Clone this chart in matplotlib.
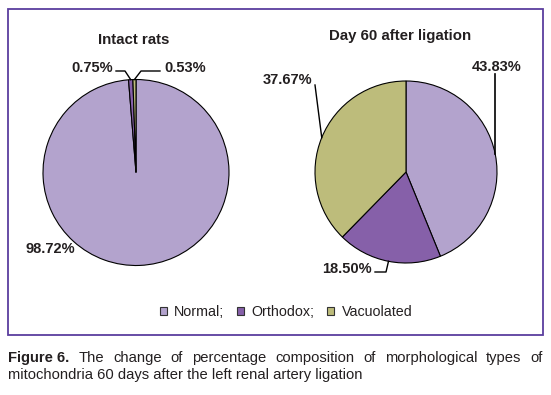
import matplotlib
matplotlib.use("Agg")
import matplotlib.pyplot as plt
from matplotlib.patches import Rectangle, Patch
import numpy as np

plt.rcParams['font.family'] = ['Liberation Sans', 'DejaVu Sans']

# ---- data ----
categories = ["Normal", "Orthodox", "Vacuolated"]
intact_values = [98.72, 0.75, 0.53]
day60_values = [43.83, 18.50, 37.67]
titles = ["Intact rats", "Day 60 after ligation"]
colors = ["#B3A3CD", "#8660A9", "#BDBC7B"]
caption_bold = "Figure 6."
caption_line1 = "The change of percentage composition of morphological types of"
caption_line2 = "mitochondria 60 days after the left renal artery ligation"

W, H = 551, 395
fig = plt.figure(figsize=(W / 100, H / 100), dpi=100)
ax = fig.add_axes([0, 0, 1, 1])
ax.set_xlim(0, W)
ax.set_ylim(H, 0)
ax.axis('off')

txt_col = "#231F20"

# border
ax.add_patch(Rectangle((8, 9), 535, 326, fill=False, edgecolor="#5B3E9E", lw=1.3))

def draw_pie(values, center, radius):
    wedges, _ = ax.pie(values, colors=colors, startangle=-90, counterclock=True,
                       center=center, radius=radius, frame=True,
                       wedgeprops=dict(edgecolor="black", linewidth=0.8))
    return wedges

def anchor(w):
    a = np.deg2rad((w.theta1 + w.theta2) / 2)
    return w.center[0] + w.r * np.cos(a), w.center[1] + w.r * np.sin(a)

lab_kw = dict(fontsize=10.5, fontweight='bold', color=txt_col, va='center')

# left pie
wl = draw_pie(intact_values, (136, 172.5), 93)
# right pie
wr = draw_pie(day60_values, (406, 172), 91)
ax.set_xlim(0, W)
ax.set_ylim(H, 0)
ax.set_aspect('auto')

ax.text(134, 40, titles[0], fontsize=10.8, fontweight='bold', color=txt_col, ha='center', va='center')
ax.text(400, 36, titles[1], fontsize=10.8, fontweight='bold', color=txt_col, ha='center', va='center')

def fmt(v):
    return f"{v:.2f}%"

# left labels
ax.text(75, 249, fmt(intact_values[0]), ha='right', **lab_kw)
x0, y0 = anchor(wl[1])
ax.text(113, 68, fmt(intact_values[1]), ha='right', **lab_kw)
ax.plot([116, 125, x0], [71, 71, y0], color='black', lw=1)
x0, y0 = anchor(wl[2])
ax.text(164, 68, fmt(intact_values[2]), ha='left', **lab_kw)
ax.plot([160, 141, x0], [71, 71, y0], color='black', lw=1)

# right labels
x0, y0 = anchor(wr[0])
ax.text(522, 67, fmt(day60_values[0]), ha='right', **lab_kw)
ax.plot([x0, x0], [74, y0], color='black', lw=1.2)
x0, y0 = anchor(wr[1])
ax.text(372, 269, fmt(day60_values[1]), ha='right', **lab_kw)
ax.plot([375, 386, x0], [272, 272, y0], color='black', lw=1)
x0, y0 = anchor(wr[2])
ax.text(312, 80, fmt(day60_values[2]), ha='right', **lab_kw)
ax.plot([315, x0], [85, y0], color='black', lw=1)

# legend
handles = [Patch(facecolor=c, edgecolor='#333333', lw=0.8) for c in colors]
labels = [categories[0] + ";", categories[1] + ";", categories[2]]
leg = fig.legend(handles, labels, loc='center', bbox_to_anchor=(286 / W, 1 - 312 / H),
                 ncol=3, frameon=False, fontsize=10.3, handlelength=0.5, handleheight=0.5,
                 handletextpad=0.5, columnspacing=0.9)
for t in leg.get_texts():
    t.set_color(txt_col)

# caption, justified first line
fig.canvas.draw()
rend = fig.canvas.get_renderer()
cap_kw = dict(fontsize=10.6, color=txt_col, va='center', ha='left')
words = [caption_bold] + caption_line1.split()
objs = []
for i, wd in enumerate(words):
    t = ax.text(0, 358, wd, fontweight='bold' if i == 0 else 'normal', **cap_kw)
    objs.append(t)
widths = [t.get_window_extent(rend).width for t in objs]
left, right = 8, 543
gap = (right - left - sum(widths)) / (len(words) - 1)
x = left
for t, wdt in zip(objs, widths):
    t.set_x(x)
    x += wdt + gap
ax.text(8, 375, caption_line2, **cap_kw)

fig.savefig("out.png", dpi=100)
